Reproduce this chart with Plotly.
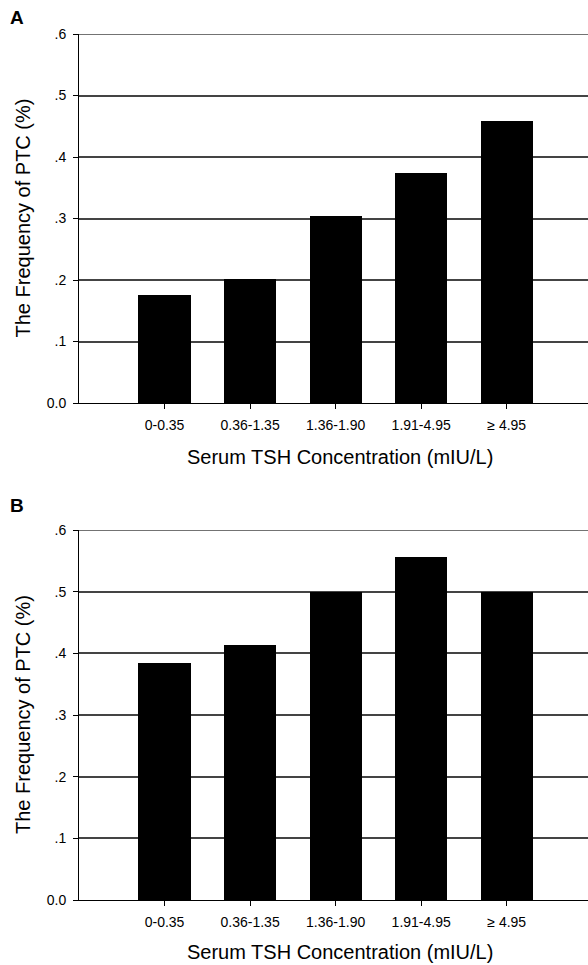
import plotly.graph_objects as go

categories = ["0-0.35", "0.36-1.35", "1.36-1.90", "1.91-4.95", "\u2265 4.95"]
values_a = [0.176, 0.201, 0.304, 0.374, 0.458]
values_b = [0.385, 0.413, 0.500, 0.557, 0.500]
ytick_vals = [0.0, 0.1, 0.2, 0.3, 0.4, 0.5, 0.6]
ytick_text = ["0.0", ".1", ".2", ".3", ".4", ".5", ".6"]
panel_labels = ["A", "B"]
x_title = "Serum TSH Concentration (mIU/L)"
y_title = "The Frequency of PTC (%)"

W, H = 588, 965
FONT = "Liberation Sans, Arial, sans-serif"
GRID = "#444444"

xpos = list(range(len(categories)))

fig = go.Figure()
fig.add_trace(go.Bar(x=xpos, y=values_a, width=0.61, marker=dict(color="black", line=dict(width=0)),
                     xaxis="x", yaxis="y", showlegend=False))
fig.add_trace(go.Bar(x=xpos, y=values_b, width=0.61, marker=dict(color="black", line=dict(width=0)),
                     xaxis="x2", yaxis="y2", showlegend=False))

x0 = 79 / W
# panel pixel positions (top, bottom)
pa = (34, 403)
pb = (530, 900)

def ydom(p):
    return [1 - p[1] / H, 1 - p[0] / H]

xcommon = dict(range=[-1.0, 4.95], tickvals=xpos, ticktext=categories, ticks="outside",
               ticklen=5, tickcolor="black", tickwidth=1, showline=True, linecolor="black",
               linewidth=1, showgrid=False, zeroline=False, ticklabelstandoff=4,
               tickfont=dict(family=FONT, size=14, color="black"), automargin=False,
               domain=[x0, 1])
ycommon = dict(range=[0, 0.6], tickvals=ytick_vals, ticktext=ytick_text, ticks="outside",
               ticklen=5, tickcolor="black", tickwidth=1, showline=True, linecolor="black",
               linewidth=1, showgrid=True, gridcolor=GRID, gridwidth=1.5, zeroline=False,
               ticklabelstandoff=4,
               tickfont=dict(family=FONT, size=14, color="black"), automargin=False)

fig.update_layout(
    width=W, height=H,
    margin=dict(l=0, r=0, t=0, b=0),
    paper_bgcolor="white", plot_bgcolor="white",
    bargap=0,
    xaxis=dict(**xcommon, anchor="y"),
    yaxis=dict(**ycommon, domain=ydom(pa), anchor="x"),
    xaxis2=dict(**xcommon, anchor="y2"),
    yaxis2=dict(**ycommon, domain=ydom(pb), anchor="x2"),
)

# top gridline at the upper end of each y range (plotly omits it at the axis edge)
for xr, yr in [("x", "y"), ("x2", "y2")]:
    fig.add_shape(type="line", xref=xr + " domain", yref=yr, x0=0, x1=1,
                  y0=ytick_vals[-1], y1=ytick_vals[-1], line=dict(color=GRID, width=1.5), layer="below")

annots = []
for lab, ly in zip(panel_labels, [18, 505]):
    annots.append(dict(text="<b>%s</b>" % lab, x=17 / W, y=1 - ly / H, xref="paper", yref="paper",
                       showarrow=False, xanchor="center", yanchor="middle",
                       font=dict(family=FONT, size=19, color="black")))
for p, ty in zip([pa, pb], [457, 952]):
    annots.append(dict(text=x_title, x=340 / W, y=1 - ty / H, xref="paper", yref="paper",
                       showarrow=False, xanchor="center", yanchor="middle",
                       font=dict(family=FONT, size=20, color="black")))
    annots.append(dict(text=y_title, x=23 / W, y=1 - ((p[0] + p[1]) / 2) / H, xref="paper", yref="paper",
                       showarrow=False, xanchor="center", yanchor="middle", textangle=-90,
                       font=dict(family=FONT, size=20, color="black")))
fig.update_layout(annotations=annots)

fig.write_html("out.html", config={"displayModeBar": False},
               post_script="document.body.style.margin='0';document.body.style.padding='0';document.body.style.overflow='hidden';")
